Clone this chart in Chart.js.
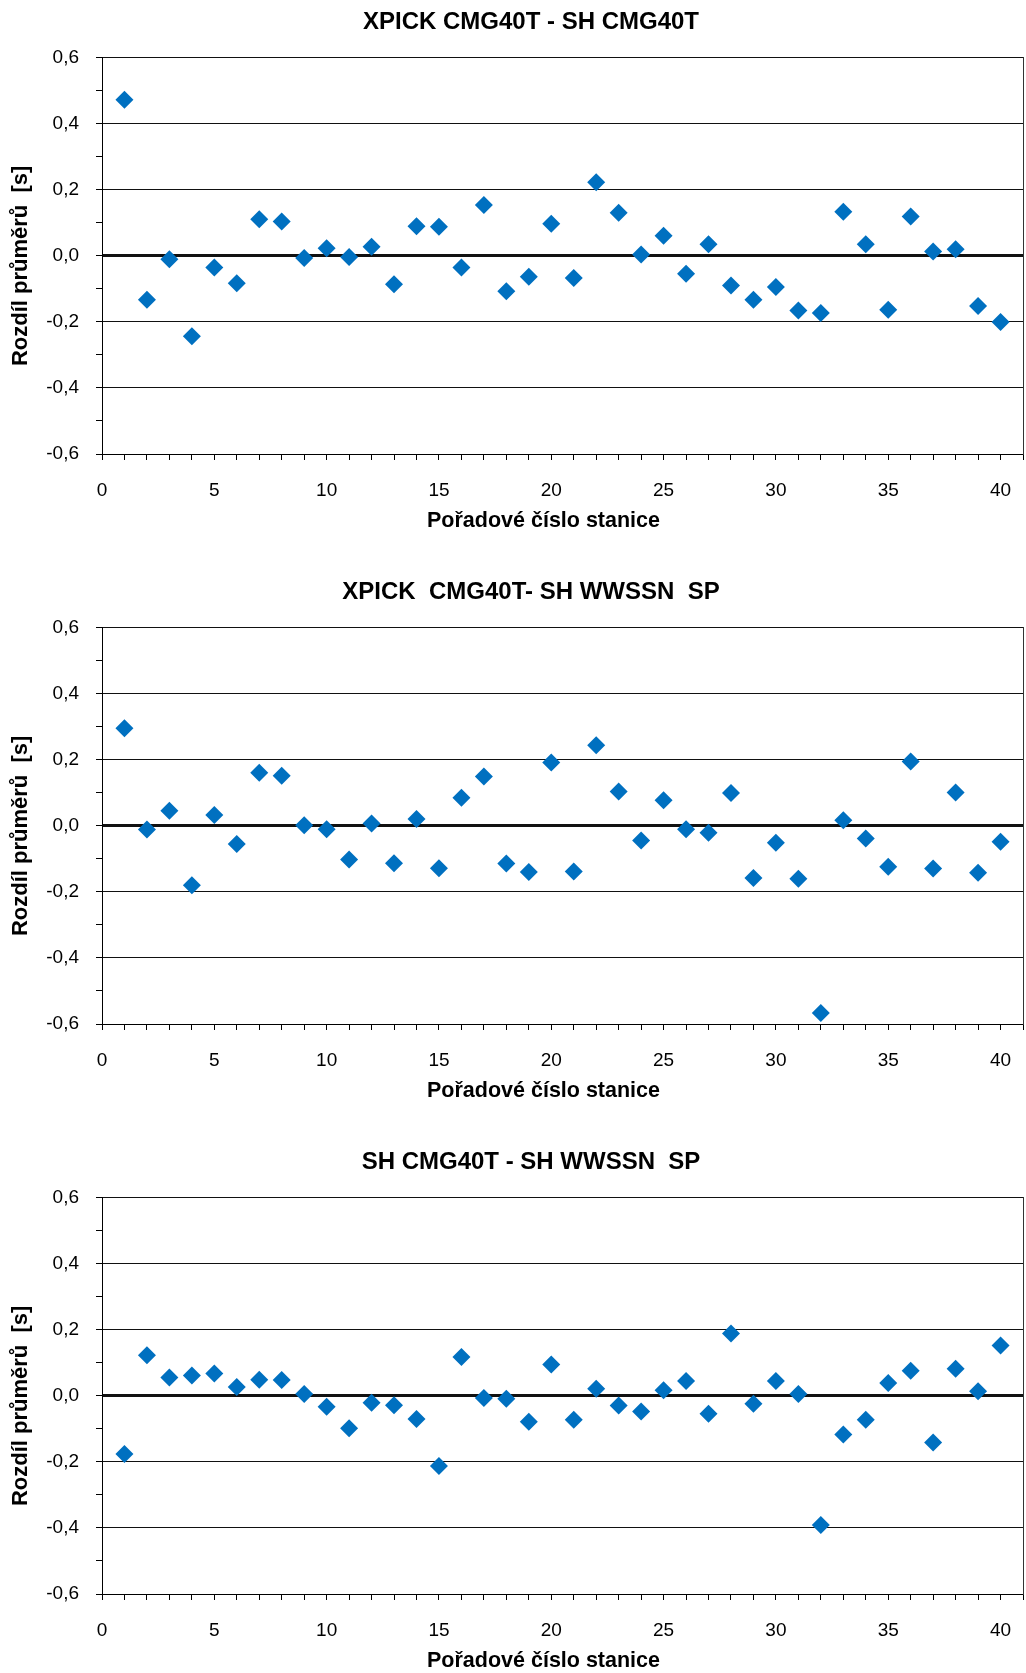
<!DOCTYPE html>
<html>
<head>
<meta charset="utf-8">
<script src="https://cdn.jsdelivr.net/npm/chart.js@4/dist/chart.umd.min.js"></script>
<style>
  html, body { margin: 0; padding: 0; background: #fff; overflow: hidden; width: 1026px; height: 1673px; }
  .panel { position: absolute; left: 0; }
  canvas { display: block; }
</style>
</head>
<body>
<div class="panel" style="top:0px"><canvas id="c1" width="1062" height="570"></canvas></div>
<div class="panel" style="top:570px"><canvas id="c2" width="1062" height="570"></canvas></div>
<div class="panel" style="top:1140px"><canvas id="c3" width="1062" height="533"></canvas></div>
<script>
// Station order numbers (x) and differences of mean values in seconds (y)
const stations = [1, 2, 3, 4, 5, 6, 7, 8, 9, 10, 11, 12, 13, 14, 15, 16, 17, 18, 19, 20,
                  21, 22, 23, 24, 25, 26, 27, 28, 29, 30, 31, 32, 33, 34, 35, 36, 37, 38, 39, 40];

const xpickCmgVsShCmg = [0.473, -0.133, -0.010, -0.243, -0.035, -0.083, 0.111, 0.104, -0.006, 0.023,
                         -0.003, 0.028, -0.086, 0.090, 0.088, -0.035, 0.154, -0.107, -0.063, 0.097,
                         -0.067, 0.223, 0.131, 0.004, 0.061, -0.054, 0.035, -0.090, -0.133, -0.094,
                         -0.165, -0.173, 0.134, 0.035, -0.163, 0.119, 0.013, 0.020, -0.152, -0.200];

const xpickCmgVsShWwssn = [0.296, -0.011, 0.046, -0.180, 0.033, -0.055, 0.161, 0.152, 0.002, -0.010,
                           -0.102, 0.007, -0.113, 0.021, -0.128, 0.085, 0.150, -0.114, -0.140, 0.192,
                           -0.138, 0.244, 0.104, -0.044, 0.078, -0.010, -0.021, 0.100, -0.158, -0.051,
                           -0.160, -0.567, 0.017, -0.038, -0.124, 0.195, -0.129, 0.101, -0.142, -0.048];

const shCmgVsShWwssn = [-0.176, 0.123, 0.056, 0.062, 0.068, 0.027, 0.049, 0.048, 0.006, -0.033,
                        -0.098, -0.021, -0.028, -0.070, -0.212, 0.118, -0.006, -0.009, -0.078, 0.095,
                        -0.072, 0.022, -0.029, -0.047, 0.017, 0.045, -0.054, 0.189, -0.024, 0.045,
                        0.006, -0.391, -0.117, -0.072, 0.039, 0.076, -0.141, 0.082, 0.014, 0.153];

const panelTitles = ['XPICK CMG40T - SH CMG40T', 'XPICK  CMG40T- SH WWSSN  SP', 'SH CMG40T - SH WWSSN  SP'];
const xAxisTitle = 'Pořadové číslo stanice';
const yAxisTitle = 'Rozdíl průměrů  [s]';
const xLabelEvery = 5;      // numbered x ticks: 0, 5, ..., 40
const yLabelEvery = 0.2;    // numbered y ticks: -0,6 ... 0,6

const FONT = "'Liberation Sans', Arial, sans-serif";
const MARKER = '#0070C0';

function tenth(v) { return Math.round(v * 10); }

// Axis titles, placed relative to the plot area
const axisTitles = {
  id: 'axisTitles',
  afterDraw(chart) {
    const { ctx, chartArea: a } = chart;
    ctx.save();
    ctx.fillStyle = '#000';
    ctx.textAlign = 'center';
    ctx.textBaseline = 'middle';
    ctx.font = 'bold 21.5px ' + FONT;
    ctx.fillText(xAxisTitle, (a.left + a.right) / 2 - 19, a.bottom + 67);
    ctx.translate(21, (a.top + a.bottom) / 2 + 10);
    ctx.rotate(-Math.PI / 2);
    ctx.font = 'bold 22px ' + FONT;
    ctx.fillText(yAxisTitle, 0, 0);
    ctx.restore();
  }
};

function makeChart(id, title, values, bottomPad) {
  const points = stations.map((s, i) => ({ x: s, y: values[i] }));
  return new Chart(document.getElementById(id), {
    type: 'scatter',
    data: {
      datasets: [{
        data: points,
        pointStyle: 'rectRot',
        pointRadius: 9,
        pointHoverRadius: 9,
        backgroundColor: MARKER,
        borderWidth: 0
      }]
    },
    plugins: [axisTitles],
    options: {
      responsive: false,
      animation: false,
      events: [],
      layout: { padding: { top: 0, left: 0, right: 0, bottom: bottomPad } },
      plugins: {
        legend: { display: false },
        tooltip: { enabled: false },
        title: {
          display: true,
          text: title,
          color: '#000',
          font: { family: FONT, size: 24, weight: 'bold' },
          padding: { top: 8, bottom: 21 }
        }
      },
      scales: {
        x: {
          type: 'linear',
          min: 0,
          max: 41,
          afterFit: s => { s.height = 79; },
          ticks: {
            stepSize: 1,
            autoSkip: false,
            maxRotation: 0,
            padding: 19,
            color: '#000',
            font: { family: FONT, size: 19 },
            callback: v => (v % xLabelEvery === 0 && v <= 40) ? String(v) : ''
          },
          grid: { drawOnChartArea: false, drawTicks: true, tickLength: 6, tickColor: '#000', tickWidth: 1 },
          border: { display: true, color: '#000', width: 1 }
        },
        y: {
          min: -0.6,
          max: 0.6,
          afterFit: s => { s.width = 102; },
          ticks: {
            stepSize: 0.1,
            padding: 17,
            color: '#000',
            font: { family: FONT, size: 19 },
            callback: v => {
              const k = tenth(v);
              return k % tenth(yLabelEvery) === 0 ? (k / 10).toFixed(1).replace('.', ',') : '';
            }
          },
          grid: {
            color: ctx => (ctx.tick && tenth(ctx.tick.value) % 2 === 0) ? '#111' : 'rgba(0,0,0,0)',
            lineWidth: ctx => (ctx.tick && tenth(ctx.tick.value) === 0) ? 3 : 1,
            tickLength: 6,
            tickColor: '#000',
            tickWidth: 1
          },
          border: { color: '#000', width: 1 }
        },
        // right-hand frame line of the plot area
        y2: {
          position: 'right',
          min: -0.6,
          max: 0.6,
          afterFit: s => { s.width = 39; },
          ticks: { display: false },
          grid: { drawOnChartArea: false, drawTicks: false },
          border: { display: true, color: '#333', width: 1 }
        }
      }
    }
  });
}

makeChart('c1', panelTitles[0], xpickCmgVsShCmg, 37);
makeChart('c2', panelTitles[1], xpickCmgVsShWwssn, 37);
makeChart('c3', panelTitles[2], shCmgVsShWwssn, 0);
</script>
</body>
</html>
